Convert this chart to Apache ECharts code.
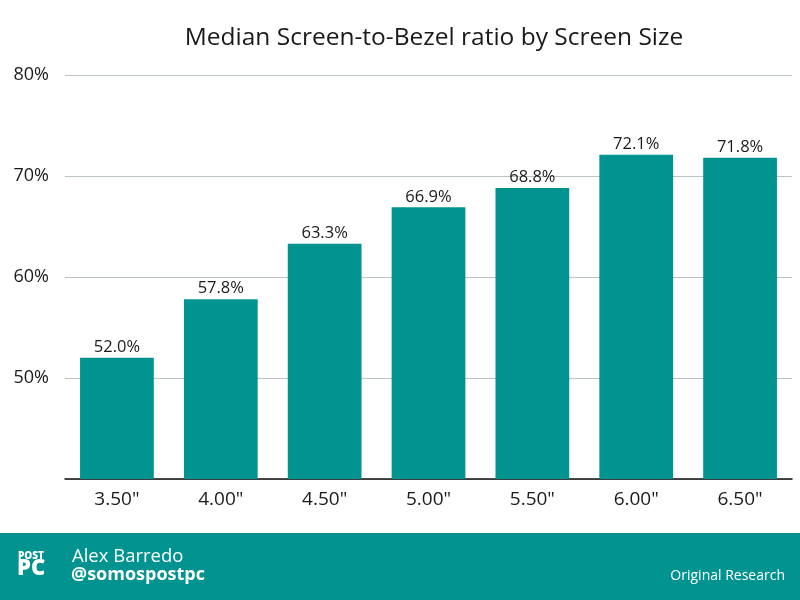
<!DOCTYPE html>
<html>
<head>
<meta charset="utf-8">
<script src="https://cdn.jsdelivr.net/npm/echarts@6/dist/echarts.min.js"></script>
<style>
  html, body { margin: 0; padding: 0; background: #fff; }
  #chart { width: 800px; height: 600px; }
</style>
</head>
<body>
<div id="chart"></div>
<script>
// screen sizes and median ratio (%)
const sizes = ['3.50"', '4.00"', '4.50"', '5.00"', '5.50"', '6.00"', '6.50"']
const ratios = [52.0, 57.8, 63.3, 66.9, 68.8, 72.1, 71.8]
const yTicks = [40, 50, 60, 70, 80]

const teal = '#00938f'
const font = 'Open Sans'

const chart = echarts.init(document.getElementById('chart'))

chart.setOption({
  backgroundColor: '#fff',
  textStyle: { fontFamily: font },
  title: {
    text: 'Median Screen-to-Bezel ratio by Screen Size',
    left: 429,
    top: 21,
    textAlign: 'center',
    textStyle: {
      fontFamily: font,
      fontSize: 24.5,
      fontWeight: 'normal',
      color: '#1a1a1a'
    }
  },
  grid: {
    top: 75,
    left: 65,
    right: 8,
    bottom: 121
  },
  xAxis: {
    type: 'category',
    data: sizes,
    axisTick: { show: false },
    axisLine: { lineStyle: { color: '#111', width: 1.5 } },
    axisLabel: {
      margin: 11,
      fontSize: 19,
      color: '#1a1a1a',
      fontFamily: font
    }
  },
  yAxis: {
    type: 'value',
    min: yTicks[0],
    max: yTicks[yTicks.length - 1],
    interval: 10,
    axisLine: { show: false },
    axisTick: { show: false },
    splitLine: { lineStyle: { color: '#b9c4c3' } },
    axisLabel: {
      margin: 16,
      fontSize: 18,
      color: '#1a1a1a',
      fontFamily: font,
      formatter: function (v) { return v === 40 ? '' : v + '%' }
    }
  },
  series: [
    {
      type: 'bar',
      data: ratios,
      barWidth: '71%',
      itemStyle: { color: teal },
      label: {
        show: true,
        position: 'top',
        distance: 2,
        fontSize: 16.5,
        color: '#1a1a1a',
        fontFamily: font,
        formatter: function (p) { return p.value.toFixed(1) + '%' }
      }
    }
  ],
  graphic: [
    {
      type: 'rect',
      left: 0,
      top: 533,
      shape: { width: 800, height: 67 },
      style: { fill: teal }
    },
    {
      type: 'text',
      left: 18,
      top: 551,
      style: { text: 'POST', fill: '#fff', font: '800 10px ' + font }
    },
    {
      type: 'text',
      left: 17,
      top: 558,
      style: { text: 'PC', fill: '#fff', font: '800 22px ' + font }
    },
    {
      type: 'text',
      left: 72,
      top: 547,
      style: { text: 'Alex Barredo', fill: '#fff', font: '18.5px ' + font }
    },
    {
      type: 'text',
      left: 71,
      top: 566,
      style: { text: '@somospostpc', fill: '#fff', font: 'bold 18px ' + font }
    },
    {
      type: 'text',
      right: 15,
      top: 569,
      style: { text: 'Original Research', fill: '#fff', font: '14px ' + font }
    }
  ]
})
</script>
</body>
</html>
